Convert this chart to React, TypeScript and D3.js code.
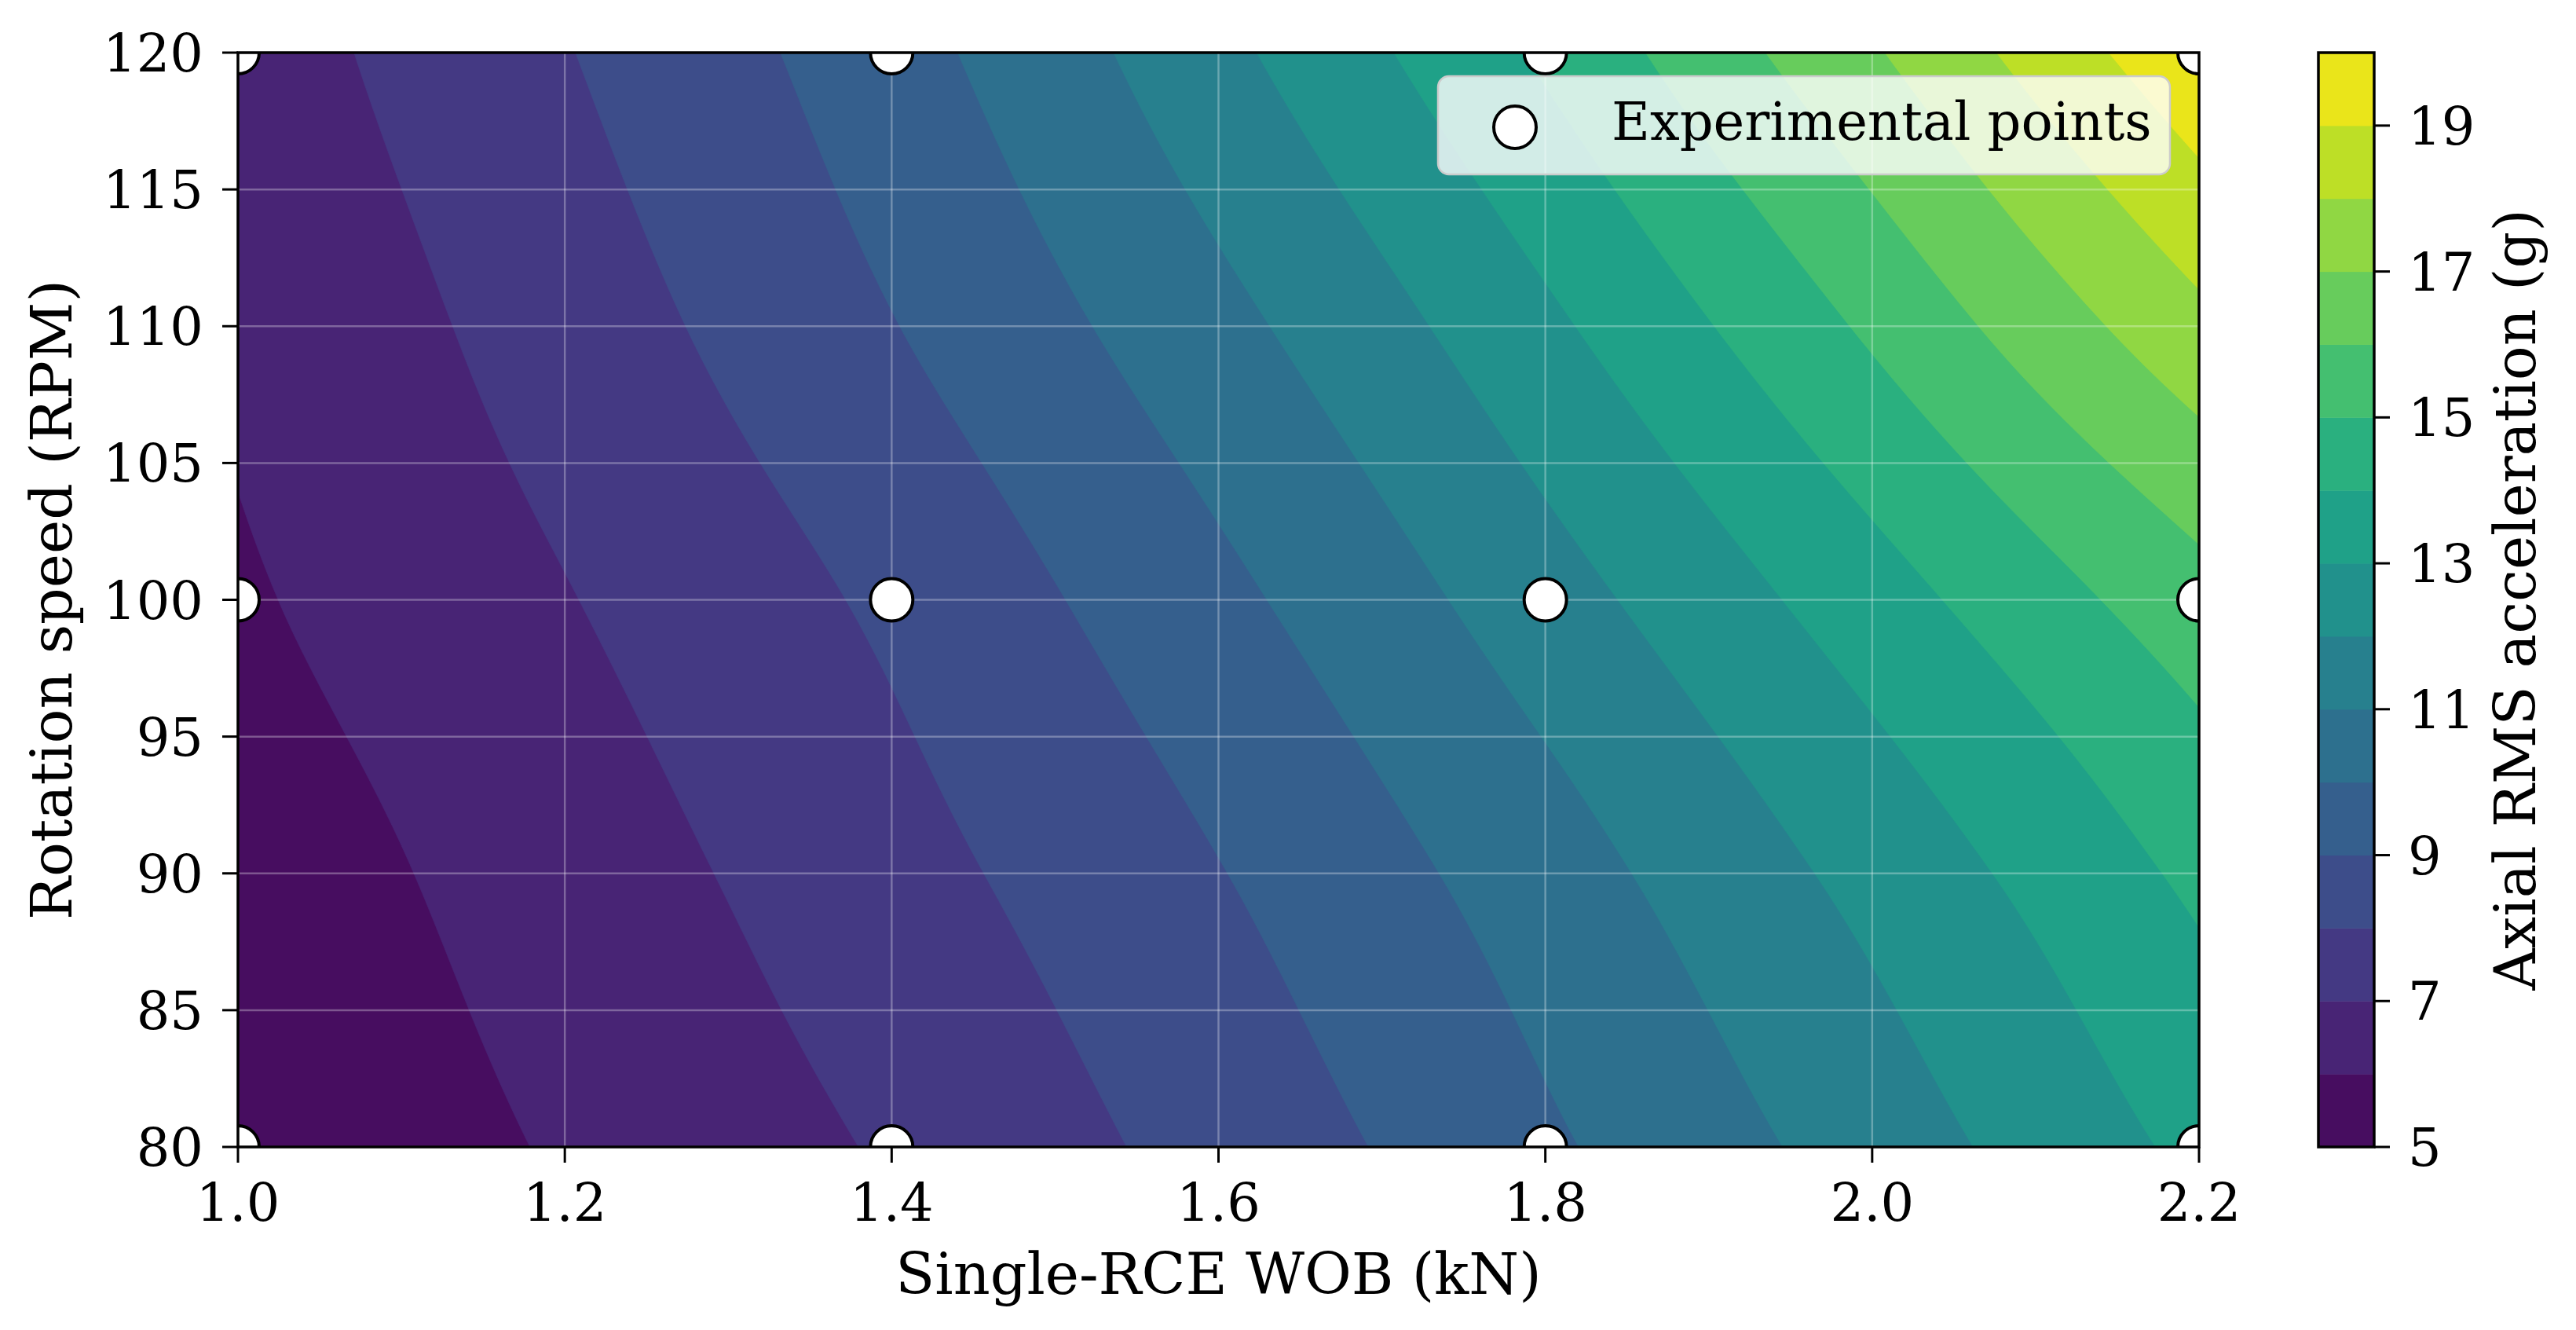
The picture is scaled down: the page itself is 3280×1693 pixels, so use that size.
import React, { useRef, useEffect } from 'react';
import * as d3 from 'd3';

// response surface, one row per rotation speed
const wobGrid = [1.0, 1.1, 1.2, 1.3, 1.4, 1.5, 1.6, 1.7, 1.8, 1.9, 2.0, 2.1, 2.2];
const rpmGrid = [80, 90, 100, 110, 120];
const accelAt80 = [5.25, 5.65, 6.10, 6.60, 7.11, 7.72, 8.37, 9.06, 9.84, 10.63, 11.46, 12.34, 13.24];
const accelAt90 = [5.46, 5.96, 6.50, 7.05, 7.65, 8.28, 8.96, 9.72, 10.54, 11.42, 12.32, 13.25, 14.22];
const accelAt100 = [5.87, 6.40, 6.95, 7.55, 8.19, 8.95, 9.75, 10.62, 11.57, 12.55, 13.56, 14.59, 15.62];
const accelAt110 = [6.18, 6.79, 7.48, 8.19, 8.96, 9.80, 10.70, 11.69, 12.79, 13.96, 15.17, 16.45, 17.72];
const accelAt120 = [6.49, 7.21, 7.95, 8.73, 9.61, 10.61, 11.73, 12.91, 14.17, 15.53, 16.89, 18.35, 19.80];

const expWob = [1.0, 1.4, 1.8, 2.2];
const expRpm = [80, 100, 120];

const levels = [5, 6, 7, 8, 9, 10, 11, 12, 13, 14, 15, 16, 17, 18, 19, 20];
const xTicks = [1.0, 1.2, 1.4, 1.6, 1.8, 2.0, 2.2];
const yTicks = [80, 85, 90, 95, 100, 105, 110, 115, 120];
const cbarTicks = [5, 7, 9, 11, 13, 15, 17, 19];

const W = 3280;
const H = 1693;
const FONT = '"DejaVu Serif", serif';

// catmull-rom through the read values, only used to resample for drawing
const crAt = (p: number[], f: number) => {
  const n = p.length;
  const k = Math.min(Math.max(Math.floor(f), 0), n - 2);
  const t = f - k;
  const get = (i: number) => {
    if (i < 0) return 2 * p[0] - p[1];
    if (i > n - 1) return 2 * p[n - 1] - p[n - 2];
    return p[i];
  };
  const p0 = get(k - 1), p1 = get(k), p2 = get(k + 1), p3 = get(k + 2);
  return 0.5 * (2 * p1 + (-p0 + p2) * t + (2 * p0 - 5 * p1 + 4 * p2 - p3) * t * t +
    (-p0 + 3 * p1 - 3 * p2 + p3) * t * t * t);
};

const App: React.FC = () => {
  const svgRef = useRef<SVGSVGElement>(null);

  useEffect(() => {
    if (!svgRef.current) return;
    const svg = d3.select(svgRef.current);
    svg.selectAll('*').remove();

    const left = 303, right = 2800, top = 67, bottom = 1460;
    const xScale = d3.scaleLinear().domain([1.0, 2.2]).range([left, right]);
    const yScale = d3.scaleLinear().domain([80, 120]).range([bottom, top]);
    const vmin = levels[0], vmax = levels[levels.length - 1];
    const bandColor = (lo: number) => d3.interpolateViridis((lo + 0.5 - vmin) / (vmax - vmin));

    const rows = [accelAt80, accelAt90, accelAt100, accelAt110, accelAt120];

    // resample the read grid finely so the filled contours come out smooth
    const nx = 241, ny = 161;
    const dx = (wobGrid[wobGrid.length - 1] - wobGrid[0]) / (nx - 1);
    const dy = (rpmGrid[rpmGrid.length - 1] - rpmGrid[0]) / (ny - 1);
    const colStep = wobGrid[1] - wobGrid[0];
    const rowStep = rpmGrid[1] - rpmGrid[0];
    const values = new Array(nx * ny);
    for (let i = 0; i < nx; i++) {
      const fx = (i * dx) / colStep;
      const col = rows.map(r => crAt(r, fx));
      for (let j = 0; j < ny; j++) {
        values[j * nx + i] = crAt(col, (j * dy) / rowStep);
      }
    }

    const contours = d3.contours()
      .size([nx, ny])
      .thresholds(levels.slice(0, -1))(values);

    const toScreen = d3.geoTransform({
      point(px: number, py: number) {
        this.stream.point(
          xScale(wobGrid[0] + (px - 0.5) * dx),
          yScale(rpmGrid[0] + (py - 0.5) * dy)
        );
      }
    });
    const path = d3.geoPath(toScreen);

    const defs = svg.append('defs');
    defs.append('clipPath').attr('id', 'plot-clip')
      .append('rect')
      .attr('x', left).attr('y', top)
      .attr('width', right - left).attr('height', bottom - top);

    const plot = svg.append('g').attr('clip-path', 'url(#plot-clip)');

    plot.selectAll('path.band')
      .data(contours)
      .enter()
      .append('path')
      .attr('class', 'band')
      .attr('d', d => path(d as any) || '')
      .attr('fill', d => bandColor(d.value))
      .attr('stroke', d => bandColor(d.value))
      .attr('stroke-width', 0.8);

    // grid
    plot.selectAll('.gx')
      .data(xTicks)
      .enter()
      .append('line')
      .attr('x1', d => xScale(d)).attr('x2', d => xScale(d))
      .attr('y1', top).attr('y2', bottom)
      .attr('stroke', '#ffffff').attr('stroke-opacity', 0.3).attr('stroke-width', 2.5);
    plot.selectAll('.gy')
      .data(yTicks)
      .enter()
      .append('line')
      .attr('y1', d => yScale(d)).attr('y2', d => yScale(d))
      .attr('x1', left).attr('x2', right)
      .attr('stroke', '#ffffff').attr('stroke-opacity', 0.3).attr('stroke-width', 2.5);

    // experimental points
    const pts: Array<[number, number]> = [];
    expRpm.forEach(r => expWob.forEach(w => pts.push([w, r])));
    plot.selectAll('.pt')
      .data(pts)
      .enter()
      .append('circle')
      .attr('cx', d => xScale(d[0]))
      .attr('cy', d => yScale(d[1]))
      .attr('r', 27)
      .attr('fill', '#ffffff')
      .attr('stroke', '#000000')
      .attr('stroke-width', 4);

    // spines
    svg.append('rect')
      .attr('x', left).attr('y', top)
      .attr('width', right - left).attr('height', bottom - top)
      .attr('fill', 'none').attr('stroke', '#000').attr('stroke-width', 3.5);

    // x axis ticks
    xTicks.forEach(t => {
      svg.append('line')
        .attr('x1', xScale(t)).attr('x2', xScale(t))
        .attr('y1', bottom).attr('y2', bottom + 20)
        .attr('stroke', '#000').attr('stroke-width', 3);
      svg.append('text')
        .attr('x', xScale(t)).attr('y', 1554)
        .attr('text-anchor', 'middle')
        .style('font-family', FONT).style('font-size', '67px')
        .text(t.toFixed(1));
    });

    // y axis ticks
    yTicks.forEach(t => {
      svg.append('line')
        .attr('x1', left - 20).attr('x2', left)
        .attr('y1', yScale(t)).attr('y2', yScale(t))
        .attr('stroke', '#000').attr('stroke-width', 3);
      svg.append('text')
        .attr('x', left - 44).attr('y', yScale(t) + 24)
        .attr('text-anchor', 'end')
        .style('font-family', FONT).style('font-size', '67px')
        .text(String(t));
    });

    svg.append('text')
      .attr('x', (left + right) / 2).attr('y', 1647)
      .attr('text-anchor', 'middle')
      .style('font-family', FONT).style('font-size', '73px')
      .text('Single-RCE WOB (kN)');

    svg.append('text')
      .attr('transform', `translate(91, ${(top + bottom) / 2}) rotate(-90)`)
      .attr('text-anchor', 'middle')
      .style('font-family', FONT).style('font-size', '73px')
      .text('Rotation speed (RPM)');

    // legend
    const lg = svg.append('g');
    lg.append('rect')
      .attr('x', 1831).attr('y', 97)
      .attr('width', 2763 - 1831).attr('height', 222 - 97)
      .attr('rx', 14)
      .attr('fill', '#ffffff').attr('fill-opacity', 0.8)
      .attr('stroke', '#cccccc').attr('stroke-width', 2.5);
    lg.append('circle')
      .attr('cx', 1929).attr('cy', 162).attr('r', 27)
      .attr('fill', '#ffffff').attr('stroke', '#000').attr('stroke-width', 4);
    lg.append('text')
      .attr('x', 2052).attr('y', 178)
      .style('font-family', FONT).style('font-size', '67px')
      .text('Experimental points');

    // colorbar
    const cbLeft = 2952, cbRight = 3023;
    const cScale = d3.scaleLinear().domain([vmin, vmax]).range([bottom, top]);
    svg.selectAll('.cb')
      .data(levels.slice(0, -1))
      .enter()
      .append('rect')
      .attr('x', cbLeft)
      .attr('y', d => cScale(d + 1))
      .attr('width', cbRight - cbLeft)
      .attr('height', d => cScale(d) - cScale(d + 1) + 0.5)
      .attr('fill', d => bandColor(d));
    svg.append('rect')
      .attr('x', cbLeft).attr('y', top)
      .attr('width', cbRight - cbLeft).attr('height', bottom - top)
      .attr('fill', 'none').attr('stroke', '#000').attr('stroke-width', 3.5);
    cbarTicks.forEach(t => {
      svg.append('line')
        .attr('x1', cbRight).attr('x2', cbRight + 20)
        .attr('y1', cScale(t)).attr('y2', cScale(t))
        .attr('stroke', '#000').attr('stroke-width', 3);
      svg.append('text')
        .attr('x', 3066).attr('y', cScale(t) + 24)
        .style('font-family', FONT).style('font-size', '67px')
        .text(String(t));
    });
    svg.append('text')
      .attr('transform', `translate(3228, ${(top + bottom) / 2}) rotate(-90)`)
      .attr('text-anchor', 'middle')
      .style('font-family', FONT).style('font-size', '73px')
      .text('Axial RMS acceleration (g)');
  }, []);

  return (
    <div style={{ position: 'absolute', left: 0, top: 0, background: '#fff' }}>
      <svg ref={svgRef} width={W} height={H} style={{ display: 'block' }} />
    </div>
  );
};

export default App;
